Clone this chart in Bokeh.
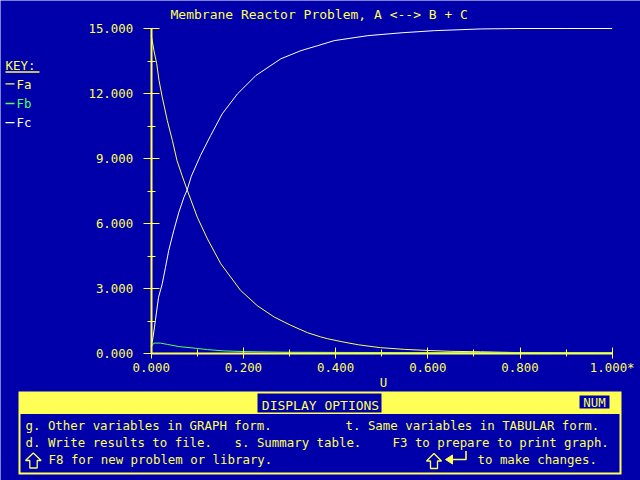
from bokeh.plotting import figure
from bokeh.models import Range1d, FixedTicker, NumeralTickFormatter
from bokeh.embed import file_html
from bokeh.resources import INLINE
from bokeh.core.properties import value

# ---------------- data ----------------
V_a = [0.0, 0.006, 0.012, 0.017, 0.024, 0.035, 0.046, 0.056, 0.067, 0.078,
       0.100, 0.122, 0.151, 0.194, 0.230, 0.267, 0.303, 0.339, 0.367, 0.383,
       0.412, 0.450, 0.497, 0.550, 0.600, 0.650, 0.714, 0.800, 0.900, 1.000]
F_a = [14.70, 13.98, 13.37, 12.60, 11.83, 10.75, 9.83, 8.90, 8.21, 7.55,
       6.29, 5.29, 4.14, 2.91, 2.21, 1.68, 1.30, 0.96, 0.77, 0.68,
       0.55, 0.40, 0.27, 0.19, 0.14, 0.10, 0.08, 0.04, 0.02, 0.01]

V_b = [0.0, 0.006, 0.020, 0.035, 0.060, 0.093, 0.122, 0.158, 0.200, 0.288,
       0.400, 0.600, 0.800, 1.000]
F_b = [0.30, 0.48, 0.48, 0.42, 0.32, 0.25, 0.18, 0.12, 0.09, 0.06,
       0.05, 0.04, 0.04, 0.04]

V_c = [0.0, 0.004, 0.009, 0.016, 0.024, 0.031, 0.038, 0.049, 0.060, 0.071,
       0.078, 0.087, 0.107, 0.129, 0.154, 0.187, 0.227, 0.281, 0.325, 0.360,
       0.397, 0.470, 0.542, 0.614, 0.716, 0.800, 0.900, 1.000]
F_c = [0.30, 0.75, 1.52, 2.60, 3.22, 3.98, 4.75, 5.68, 6.52, 7.21,
       7.55, 8.18, 9.14, 10.06, 11.06, 11.98, 12.83, 13.60, 13.98, 14.20,
       14.44, 14.67, 14.80, 14.90, 14.98, 15.00, 15.00, 15.00]

x_ticks = [0.0, 0.2, 0.4, 0.6, 0.8, 1.0]
x_minor = [0.1, 0.3, 0.5, 0.7, 0.9]
y_ticks = [0, 3, 6, 9, 12, 15]
y_minor = [1.5, 4.5, 7.5, 10.5, 13.5]

title_text = "Membrane Reactor Problem, A <--> B + C"
x_label = "U"
key_title = "KEY:"
key_names = ["Fa", "Fb", "Fc"]

menu_title = "DISPLAY OPTIONS"
menu_flag = "NUM"
menu_lines = ["g. Other variables in GRAPH form.",
              "t. Same variables in TABULAR form.",
              "d. Write results to file.",
              "s. Summary table.",
              "F3 to prepare to print graph.",
              "F8 for new problem or library.",
              "to make changes."]

# ---------------- styles / layout (screen pixels) ----------------
BLUE = "#0000AA"
YEL = "#FFFF55"
GRN = "#55FF55"
WHT = "#FFFFFF"
MONO = "DejaVu Sans Mono"
FS = "12.4px"
W, H = 640, 480
X0PX, X1PX = 150.7, 611.7      # where U = 0 and U = 1 fall
Y0PX, Y15PX = 353.0, 28.0      # where F = 0 and F = 15 fall
PXU = (X1PX - X0PX) / 1.0
PYU = (Y0PX - Y15PX) / 15.0
TDY = -4.7                     # baseline correction for svg text

p = figure(width=W, height=H, title=None,
           x_range=Range1d(-X0PX / PXU, (W - X0PX) / PXU),
           y_range=Range1d((Y0PX - H) / PYU, Y0PX / PYU),
           output_backend="svg", toolbar_location=None, min_border=0)
p.extra_x_ranges = {"px": Range1d(0, W)}
p.extra_y_ranges = {"py": Range1d(H, 0)}
p.background_fill_color = BLUE
p.border_fill_color = BLUE
p.outline_line_color = None
p.grid.visible = False

# ---------------- data lines ----------------
p.line(V_a, F_a, line_color=YEL, line_width=1)
p.line(V_b, F_b, line_color=GRN, line_width=1)
p.line(V_c, F_c, line_color=WHT, line_width=1)

# ---------------- axes ----------------
for ax in (p.xaxis[0], p.yaxis[0]):
    ax.fixed_location = 0
    ax.axis_line_color = YEL
    ax.axis_line_width = 2
    ax.major_tick_line_color = YEL
    ax.minor_tick_line_color = YEL
    ax.major_label_text_color = YEL
    ax.major_label_text_font = MONO
    ax.major_label_text_font_size = FS
    ax.formatter = NumeralTickFormatter(format="0.000")

xa = p.xaxis[0]
xa.bounds = (0, 1)
xa.ticker = FixedTicker(ticks=x_ticks, minor_ticks=x_minor)
xa.major_tick_in = 6
xa.major_tick_out = 5
xa.minor_tick_in = 4
xa.minor_tick_out = 3
xa.major_label_standoff = 1
xa.major_label_overrides = {1: "1.000*"}

ya = p.yaxis[0]
ya.bounds = (0, 15)
ya.ticker = FixedTicker(ticks=y_ticks, minor_ticks=y_minor)
ya.major_tick_in = 8
ya.major_tick_out = 8
ya.minor_tick_in = 4
ya.minor_tick_out = 4
ya.major_label_standoff = 10

PX = dict(x_range_name="px", y_range_name="py")


def txt(xs, ys, texts, color, size=FS, align="left"):
    p.text(x=xs, y=[y + TDY for y in ys], text=texts, text_color=color,
           text_font=value(MONO), text_font_size=value(size), text_align=align,
           text_baseline="alphabetic", **PX)


# title, axis name, key
txt([170], [18.3], [title_text], YEL, size="13px")
txt([383], [387], [x_label], YEL, align="center")
txt([5], [69.3], [key_title], YEL)
p.segment(x0=[5], y0=[71.5], x1=[39], y1=[71.5], line_color=YEL, line_width=1.5, **PX)
key_colors = [YEL, GRN, WHT]
key_base = [88.3, 107.7, 126.7]
key_dash = [83.3, 103.0, 122.2]
p.segment(x0=[5, 5, 5], y0=key_dash, x1=[14, 14, 14], y1=key_dash,
          line_color=key_colors, line_width=1.3, **PX)
for t, c, b in zip(key_names, key_colors, key_base):
    txt([16], [b], [t], c)

# ---------------- menu panel ----------------
p.quad(left=[18], right=[621], top=[391], bottom=[474], fill_color=YEL,
       line_color=None, **PX)
p.quad(left=[20, 257, 579], right=[619, 381, 609], top=[413.5, 393, 395],
       bottom=[472, 412, 408], fill_color=BLUE, line_color=None, **PX)
txt([320], [409.3], [menu_title], YEL, size="13px", align="center")
txt([594], [406.7], [menu_flag], YEL, align="center")
txt([25, 345, 25, 234, 392, 48, 477],
    [430, 430, 446.5, 446.5, 446.5, 464, 464], menu_lines, YEL)

# key symbols drawn as outlines: two "shift" arrows and an "enter" arrow
p.patches(xs=[[32.8, 40.6, 36.7, 36.7, 29.3, 29.3, 25.0],
              [433.5, 441.0, 437.0, 437.0, 430.0, 430.0, 426.0]],
          ys=[[452.5, 460.0, 460.0, 467.5, 467.5, 460.0, 460.0],
              [453.0, 460.5, 460.5, 468.0, 468.0, 460.5, 460.5]],
          fill_alpha=0, line_color=YEL, line_width=1.3, **PX)
p.patch(x=[445.0, 452.0, 452.0], y=[459.0, 454.5, 463.5], fill_color=YEL,
        line_color=YEL, line_width=1, **PX)
p.line(x=[451.0, 465.5, 465.5], y=[459.0, 459.0, 450.5], line_color=YEL,
       line_width=1.6, **PX)

open("out.html", "w").write(file_html(p, INLINE))
